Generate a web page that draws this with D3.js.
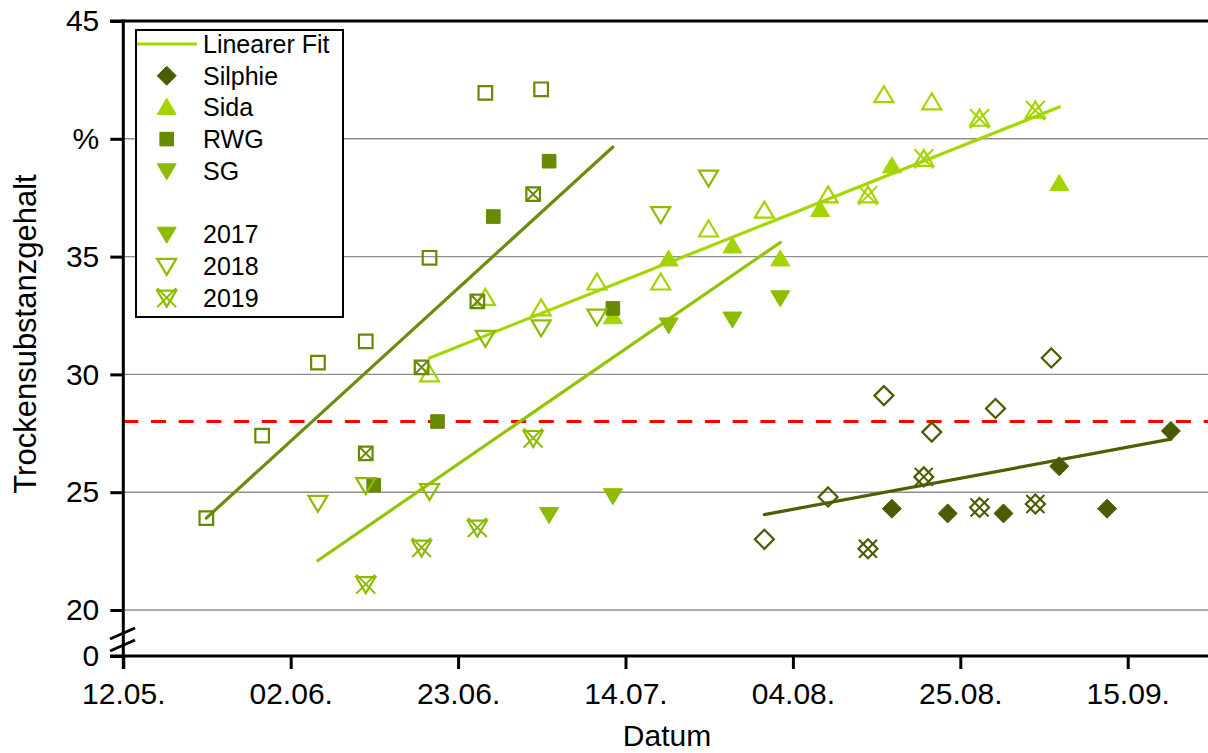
<!DOCTYPE html>
<html>
<head>
<meta charset="utf-8">
<script src="https://d3js.org/d3.v7.min.js"></script>
<style>
  body { margin: 0; background: #fff; }
  svg { display: block; font-family: "Liberation Sans", Arial, sans-serif; }
</style>
</head>
<body>
<svg id="chart" width="1208" height="753"></svg>
<script>
// Dates are day.month of the sampling, values are dry matter content in %.
const xTickLabels = ["12.05.", "02.06.", "23.06.", "14.07.", "04.08.", "25.08.", "15.09."];
const yTickValues = [0, 20, 25, 30, 35, 40, 45];
const threshold = 28;

const species = ["Silphie", "Sida", "RWG", "SG"];
const years = ["2017", "2018", "2019"];

const silphie2017 = [["16.08.", 24.3], ["23.08.", 24.1], ["30.08.", 24.1], ["06.09.", 26.1], ["12.09.", 24.3], ["20.09.", 27.6]];
const silphie2018 = [["31.07.", 23.0], ["08.08.", 24.8], ["15.08.", 29.1], ["21.08.", 27.55], ["29.08.", 28.55], ["05.09.", 30.7]];
const silphie2019 = [["13.08.", 22.6], ["20.08.", 25.65], ["27.08.", 24.35], ["03.09.", 24.5]];

const sida2017 = [["12.07.", 32.45], ["19.07.", 34.9], ["27.07.", 35.45], ["02.08.", 34.9], ["07.08.", 37.0], ["16.08.", 38.85], ["06.09.", 38.1]];
const sida2018 = [["19.06.", 30.0], ["26.06.", 33.25], ["03.07.", 32.8], ["10.07.", 33.9], ["18.07.", 33.9], ["24.07.", 36.15], ["31.07.", 36.95], ["08.08.", 37.6], ["15.08.", 41.85], ["21.08.", 41.55]];
const sida2019 = [["13.08.", 37.6], ["20.08.", 39.15], ["27.08.", 40.85], ["03.09.", 41.2]];

const rwg2017 = [["12.06.", 25.3], ["20.06.", 28.0], ["27.06.", 36.7], ["04.07.", 39.05], ["12.07.", 32.8]];
const rwg2018 = [["22.05.", 23.9], ["29.05.", 27.4], ["05.06.", 30.5], ["11.06.", 31.4], ["19.06.", 34.95], ["26.06.", 41.95], ["03.07.", 42.1]];
const rwg2019 = [["11.06.", 26.65], ["18.06.", 30.3], ["25.06.", 33.1], ["02.07.", 37.65]];

const sg2017 = [["04.07.", 24.05], ["12.07.", 24.85], ["19.07.", 32.1], ["27.07.", 32.35], ["02.08.", 33.25]];
const sg2018 = [["05.06.", 24.55], ["11.06.", 25.3], ["19.06.", 25.05], ["26.06.", 31.55], ["03.07.", 32.0], ["10.07.", 32.45], ["18.07.", 36.8], ["24.07.", 38.35]];
const sg2019 = [["11.06.", 21.1], ["18.06.", 22.65], ["25.06.", 23.5], ["02.07.", 27.3]];

// linear fits (start and end)
const fitSilphie = [["31.07.", 24.05], ["20.09.", 27.25]];
const fitSida = [["19.06.", 30.7], ["06.09.", 41.35]];
const fitRwg = [["22.05.", 23.9], ["12.07.", 39.65]];
const fitSg = [["05.06.", 22.1], ["02.08.", 35.6]];

const colors = { Silphie: "#4a5c00", Sida: "#a3d400", RWG: "#668a00", SG: "#8cbb00" };
const fitColors = { Silphie: "#4d6000", Sida: "#a5d600", RWG: "#6a8d0c", SG: "#92c400" };

const series = [
    { sp: "Silphie", year: "2017", data: silphie2017 }, { sp: "Silphie", year: "2018", data: silphie2018 }, { sp: "Silphie", year: "2019", data: silphie2019 },
    { sp: "Sida", year: "2017", data: sida2017 }, { sp: "Sida", year: "2018", data: sida2018 }, { sp: "Sida", year: "2019", data: sida2019 },
    { sp: "RWG", year: "2017", data: rwg2017 }, { sp: "RWG", year: "2018", data: rwg2018 }, { sp: "RWG", year: "2019", data: rwg2019 },
    { sp: "SG", year: "2017", data: sg2017 }, { sp: "SG", year: "2018", data: sg2018 }, { sp: "SG", year: "2019", data: sg2019 }
];
const fits = [
    { sp: "RWG", data: fitRwg }, { sp: "SG", data: fitSg },
    { sp: "Sida", data: fitSida }, { sp: "Silphie", data: fitSilphie }
];

const parseDay = d3.timeParse("%d.%m.");
// samples sit a little after midnight of their day on the time axis
const when = s => d3.timeHour.offset(parseDay(s), 10);

const svg = d3.select("#chart");
const plotLeft = 123.3, plotRight = 1208, plotTop = 21, plotBottom = 656;

const x = d3.scaleTime()
    .domain([parseDay("12.05."), parseDay("15.09.")])
    .range([plotLeft, 1127.7]);
// broken axis: 0 sits just below the 20..45 segment
const y = d3.scaleLinear().domain([0, 20, 45]).range([plotBottom, 610, plotTop]);

// grid
svg.append("g").selectAll("line")
    .data([20, 25, 30, 35, 40])
    .join("line")
    .attr("x1", plotLeft).attr("x2", plotRight)
    .attr("y1", d => y(d)).attr("y2", d => y(d))
    .attr("stroke", "#8e8e8e").attr("stroke-width", 1.4);

// threshold
svg.append("line")
    .attr("x1", plotLeft).attr("x2", plotRight)
    .attr("y1", y(threshold)).attr("y2", y(threshold))
    .attr("stroke", "#ff0000").attr("stroke-width", 3.2)
    .attr("stroke-dasharray", "15,12.7");

// fit lines
const line = d3.line().x(d => x(when(d[0]))).y(d => y(d[1]));
svg.append("g").selectAll("path")
    .data(fits)
    .join("path")
    .attr("d", d => line(d.data))
    .attr("fill", "none")
    .attr("stroke", d => fitColors[d.sp])
    .attr("stroke-width", 3.2)
    .attr("stroke-linecap", "round");

// marker shapes
const shapeOf = { Silphie: "diamond", Sida: "up", RWG: "square", SG: "down" };
function shapePath(shape) {
    switch (shape) {
        case "diamond": return "M0,-9.5L9.5,0L0,9.5L-9.5,0Z";
        case "up": return "M0,-9L9.5,7L-9.5,7Z";
        case "down": return "M0,9L9.5,-7L-9.5,-7Z";
        case "square": return "M-6.8,-6.8H6.8V6.8H-6.8Z";
    }
}
function crossPath(shape) {
    const r = shape === "square" ? 6.8 : shape === "diamond" ? 9 : 9.5;
    return `M${-r},${-r}L${r},${r}M${r},${-r}L${-r},${r}`;
}

function drawMarker(g, shape, year, color) {
    const open = year !== "2017";
    g.append("path")
        .attr("d", shapePath(shape))
        .attr("fill", open ? "none" : color)
        .attr("stroke", color)
        .attr("stroke-width", open ? 2.2 : 1)
        .attr("stroke-linejoin", "miter");
    if (year === "2019") {
        g.append("path")
            .attr("d", crossPath(shape))
            .attr("fill", "none")
            .attr("stroke", color)
            .attr("stroke-width", 2);
    }
}

const pts = svg.append("g");
series.forEach(s => {
    s.data.forEach(d => {
        const g = pts.append("g")
            .attr("transform", `translate(${x(when(d[0]))},${y(d[1])})`);
        drawMarker(g, shapeOf[s.sp], s.year, colors[s.sp]);
    });
});

// axes
const yAxis = d3.axisLeft(y)
    .tickValues(yTickValues)
    .tickFormat(d => d === 40 ? "%" : d)
    .tickSize(13).tickPadding(11);
svg.append("g")
    .attr("transform", `translate(${plotLeft},0)`)
    .call(yAxis)
    .call(g => g.select(".domain").remove())
    .call(g => g.selectAll("line").attr("stroke", "#000").attr("stroke-width", 3))
    .call(g => g.selectAll("text").attr("font-size", 30).attr("fill", "#000")
        .attr("font-family", "Liberation Sans, Arial, sans-serif"));

const xAxis = d3.axisBottom(x)
    .tickValues(xTickLabels.map(parseDay))
    .tickFormat(d3.timeFormat("%d.%m."))
    .tickSize(13).tickPadding(14);
svg.append("g")
    .attr("transform", `translate(0,${plotBottom})`)
    .call(xAxis)
    .call(g => g.select(".domain").remove())
    .call(g => g.selectAll("line").attr("stroke", "#000").attr("stroke-width", 3))
    .call(g => g.selectAll("text").attr("font-size", 30).attr("fill", "#000")
        .attr("font-family", "Liberation Sans, Arial, sans-serif"));

// frame lines
const frame = svg.append("g").attr("stroke", "#000").attr("stroke-width", 3);
frame.append("line").attr("x1", plotLeft).attr("x2", plotLeft).attr("y1", plotTop - 1.5).attr("y2", plotBottom + 13);
frame.append("line").attr("x1", 110).attr("x2", plotRight).attr("y1", plotBottom).attr("y2", plotBottom);
frame.append("line").attr("x1", 110).attr("x2", plotRight).attr("y1", plotTop).attr("y2", plotTop);

// axis break marks
const brk = svg.append("g").attr("stroke", "#000").attr("stroke-width", 3);
[0, 12].forEach(dy => {
    brk.append("line")
        .attr("x1", 110).attr("y1", 639 + dy)
        .attr("x2", 135).attr("y2", 628 + dy);
});

// axis titles
svg.append("text")
    .attr("x", 667).attr("y", 746)
    .attr("text-anchor", "middle")
    .attr("font-size", 30)
    .text("Datum");
svg.append("text")
    .attr("transform", "translate(36,334) rotate(-90)")
    .attr("text-anchor", "middle")
    .attr("font-size", 31)
    .text("Trockensubstanzgehalt");

// legend
const legend = svg.append("g");
legend.append("rect")
    .attr("x", 136).attr("y", 30)
    .attr("width", 207).attr("height", 287)
    .attr("fill", "#fff").attr("stroke", "#000").attr("stroke-width", 2);

const rowY = i => 44 + i * 31.7;
const legendRows = [
    { label: "Linearer Fit", kind: "line", row: 0 },
    ...species.map((sp, i) => ({ label: sp, kind: "species", sp, row: i + 1 })),
    ...years.map((yr, i) => ({ label: yr, kind: "year", yr, row: i + 6 }))
];
legendRows.forEach(r => {
    const cy = rowY(r.row);
    if (r.kind === "line") {
        legend.append("line")
            .attr("x1", 137).attr("x2", 197)
            .attr("y1", cy).attr("y2", cy)
            .attr("stroke", fitColors.Sida).attr("stroke-width", 3.2);
    } else {
        const g = legend.append("g").attr("transform", `translate(166.7,${cy})`);
        if (r.kind === "species") {
            drawMarker(g, shapeOf[r.sp], "2017", colors[r.sp]);
        } else {
            drawMarker(g, "down", r.yr, colors.SG);
        }
    }
    legend.append("text")
        .attr("x", 203).attr("y", cy)
        .attr("dy", "0.36em")
        .attr("font-size", 25)
        .text(r.label);
});
</script>
</body>
</html>
